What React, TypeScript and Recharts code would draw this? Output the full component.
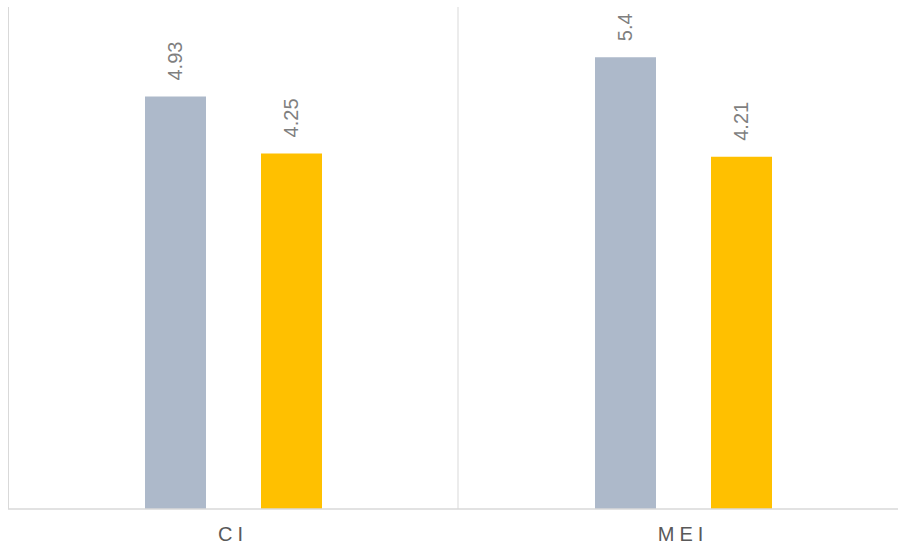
import { BarChart, Bar, XAxis, YAxis, CartesianGrid, LabelList } from "recharts"

const categories = ["CI", "MEI"]
const seriesA = [4.93, 5.4]
const seriesB = [4.25, 4.21]

const GREY = "#ADB9CA"
const GOLD = "#FFC000"
const FONT = "'Liberation Sans', Arial, sans-serif"

const data = categories.map((name, i) => ({ name, a: seriesA[i], b: seriesB[i] }))

// value written upward above each bar
function UpLabel(props: any) {
  const { x, y, width, value } = props
  const cx = x + width / 2
  const cy = y - 16
  return (
    <text
      x={cx}
      y={cy}
      transform={`rotate(-90 ${cx} ${cy})`}
      textAnchor="start"
      dominantBaseline="central"
      fill="#7F7F7F"
      fontSize={20}
      fontFamily={FONT}
    >
      {value}
    </text>
  )
}

export default function App() {
  return (
    <div style={{ position: "absolute", left: 0, top: 0, width: 898, height: 546, overflow: "hidden" }}>
      <BarChart
        width={908}
        height={546}
        data={data}
        margin={{ top: 7, right: 0, left: 8, bottom: 0 }}
        barSize={61}
        barGap={55}
      >
        <CartesianGrid
          horizontal={false}
          stroke="#D9D9D9"
          verticalCoordinatesGenerator={({ offset }: any) => [
            offset.left + 0.5,
            offset.left + offset.width / 2,
            offset.left + offset.width,
          ]}
        />
        <XAxis
          dataKey="name"
          height={37}
          tickLine={false}
          tickSize={0}
          tickMargin={18}
          axisLine={{ stroke: "#D9D9D9", strokeWidth: 1.5 }}
          tick={{ fill: "#595959", fontSize: 20, fontFamily: FONT, letterSpacing: 5 }}
        />
        <YAxis hide domain={[0, 6]} />
        <Bar dataKey="a" fill={GREY} isAnimationActive={false}>
          <LabelList dataKey="a" content={UpLabel} />
        </Bar>
        <Bar dataKey="b" fill={GOLD} isAnimationActive={false}>
          <LabelList dataKey="b" content={UpLabel} />
        </Bar>
      </BarChart>
    </div>
  )
}
